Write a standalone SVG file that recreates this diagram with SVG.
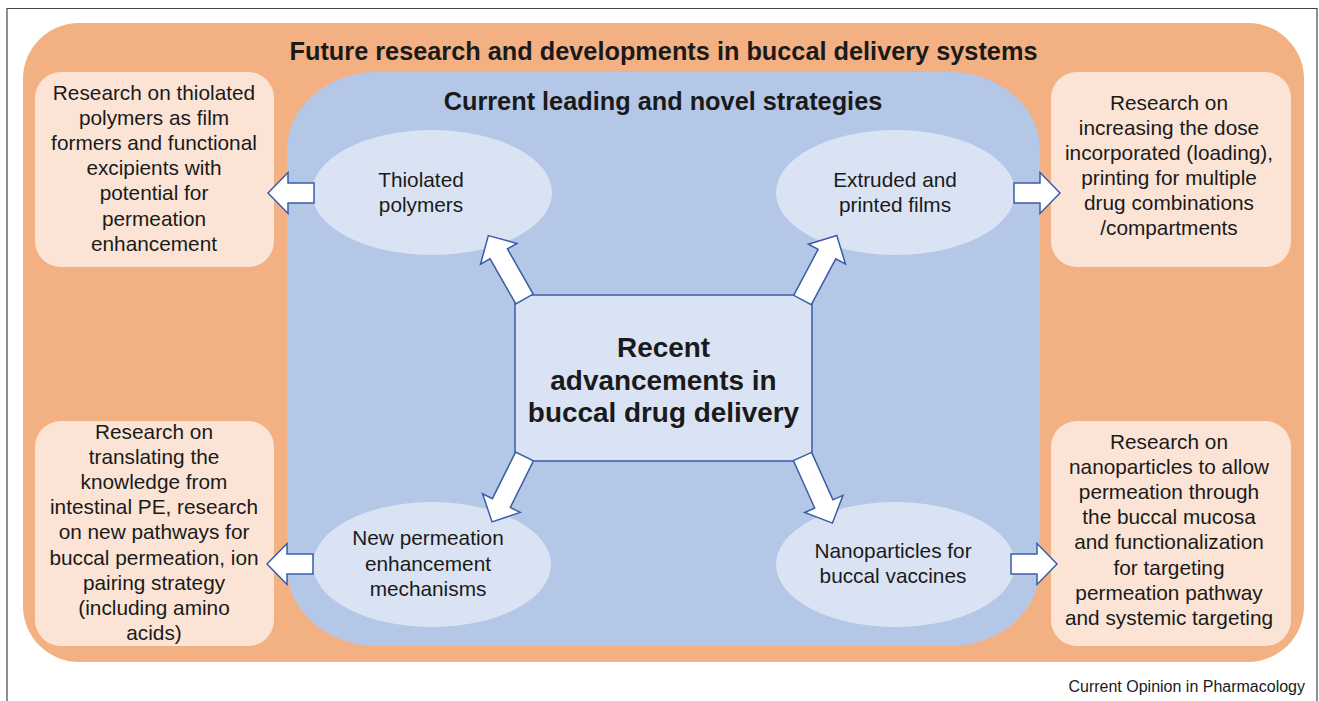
<svg xmlns="http://www.w3.org/2000/svg" xmlns:xlink="http://www.w3.org/1999/xlink" width="1319" height="701" viewBox="0 0 1319 701">
<style>
text{font-family:"Liberation Sans",Arial,Helvetica,sans-serif;fill:#1a1a1a;text-anchor:middle}
.title{font-size:25.3px;font-weight:bold}
.body{font-size:20.8px}
.center{font-size:27.9px;font-weight:bold}
.foot{font-size:16px;text-anchor:end}
.peach{fill:#FBE4D5}
.oval{fill:#DAE3F3}
.arrow{fill:#ffffff;stroke:#3A5DA8;stroke-width:1.5;stroke-linejoin:miter}
</style>
<defs>
<polygon id="darr" points="0,-10 52,-10 52,-21 73,0 52,21 52,10 0,10"/>
<polygon id="harr" points="0,-10 26,-10 26,-20.5 46,0 26,20.5 26,10 0,10"/>
</defs>
<rect width="1319" height="701" fill="#ffffff"/>
<path d="M7,701 V8.5 H1317 V701" fill="none" stroke="#444" stroke-width="1.2"/>
<g id="future-frame">
<rect x="23" y="23" width="1281" height="639" rx="56" ry="56" fill="#F3B083"/>
<text class="title" x="663.5" y="60">Future research and developments in buccal delivery systems</text>
</g>
<g id="box-thiolated-research">
<rect class="peach" x="35" y="72" width="239" height="195" rx="26"/>
<text class="body" x="154" y="99.5">Research on thiolated</text>
<text class="body" x="154" y="124.7">polymers as film</text>
<text class="body" x="154" y="149.9">formers and functional</text>
<text class="body" x="154" y="175.1">excipients with</text>
<text class="body" x="154" y="200.3">potential for</text>
<text class="body" x="154" y="225.5">permeation</text>
<text class="body" x="154" y="250.7">enhancement</text>
</g>
<g id="box-films-research">
<rect class="peach" x="1051" y="72" width="240" height="195" rx="26"/>
<text class="body" x="1169" y="110">Research on</text>
<text class="body" x="1169" y="135">increasing the dose</text>
<text class="body" x="1169" y="160">incorporated (loading),</text>
<text class="body" x="1169" y="185">printing for multiple</text>
<text class="body" x="1169" y="210">drug combinations</text>
<text class="body" x="1169" y="235">/compartments</text>
</g>
<g id="box-pe-research">
<rect class="peach" x="35" y="421" width="239" height="225" rx="26"/>
<text class="body" x="154" y="439">Research on</text>
<text class="body" x="154" y="464.1">translating the</text>
<text class="body" x="154" y="489.2">knowledge from</text>
<text class="body" x="154" y="514.3">intestinal PE, research</text>
<text class="body" x="154" y="539.4">on new pathways for</text>
<text class="body" x="154" y="564.5">buccal permeation, ion</text>
<text class="body" x="154" y="589.6">pairing strategy</text>
<text class="body" x="154" y="614.7">(including amino</text>
<text class="body" x="154" y="639.8">acids)</text>
</g>
<g id="box-nano-research">
<rect class="peach" x="1051" y="421" width="240" height="225" rx="26"/>
<text class="body" x="1169" y="449">Research on</text>
<text class="body" x="1169" y="474.1">nanoparticles to allow</text>
<text class="body" x="1169" y="499.2">permeation through</text>
<text class="body" x="1169" y="524.3">the buccal mucosa</text>
<text class="body" x="1169" y="549.4">and functionalization</text>
<text class="body" x="1169" y="574.5">for targeting</text>
<text class="body" x="1169" y="599.6">permeation pathway</text>
<text class="body" x="1169" y="624.7">and systemic targeting</text>
</g>
<g id="current-strategies">
<rect x="287" y="72" width="753" height="574" rx="90" ry="78" fill="#B4C7E7"/>
<text class="title" x="663" y="110">Current leading and novel strategies</text>
</g>
<g id="node-thiolated">
<ellipse class="oval" cx="432" cy="192.5" rx="120" ry="62.5"/>
<text class="body" x="421" y="187">Thiolated</text>
<text class="body" x="421" y="212">polymers</text>
</g>
<g id="node-films">
<ellipse class="oval" cx="895.5" cy="192.5" rx="119.5" ry="62.5"/>
<text class="body" x="895" y="187">Extruded and</text>
<text class="body" x="895" y="212">printed films</text>
</g>
<g id="node-permeation">
<ellipse class="oval" cx="432" cy="564.5" rx="119" ry="62.5"/>
<text class="body" x="428" y="545">New permeation</text>
<text class="body" x="428" y="570.5">enhancement</text>
<text class="body" x="428" y="596">mechanisms</text>
</g>
<g id="node-nanoparticles">
<ellipse class="oval" cx="895.5" cy="564.5" rx="119.5" ry="62.5"/>
<text class="body" x="893" y="558">Nanoparticles for</text>
<text class="body" x="893" y="583">buccal vaccines</text>
</g>
<g id="node-recent">
<rect x="515" y="295" width="297" height="166" fill="#DAE3F3" stroke="#3A5DA8" stroke-width="1.5"/>
<text class="center" x="663.5" y="357">Recent</text>
<text class="center" x="663.5" y="389.5">advancements in</text>
<text class="center" x="663.5" y="422">buccal drug delivery</text>
</g>
<g id="connectors">
<use xlink:href="#darr" class="arrow" transform="translate(524.5,299) rotate(-119.7)"/>
<use xlink:href="#darr" class="arrow" transform="translate(802.5,300) rotate(-62)"/>
<use xlink:href="#darr" class="arrow" transform="translate(524.5,456.5) rotate(116.4)"/>
<use xlink:href="#darr" class="arrow" transform="translate(802.5,456.5) rotate(65.8)"/>
<use xlink:href="#harr" class="arrow" transform="translate(314,193) rotate(180)"/>
<use xlink:href="#harr" class="arrow" transform="translate(1014,193)"/>
<use xlink:href="#harr" class="arrow" transform="translate(313,564) rotate(180)"/>
<use xlink:href="#harr" class="arrow" transform="translate(1011,564)"/>
</g>
<text class="foot" x="1305" y="692">Current Opinion in Pharmacology</text>
</svg>
